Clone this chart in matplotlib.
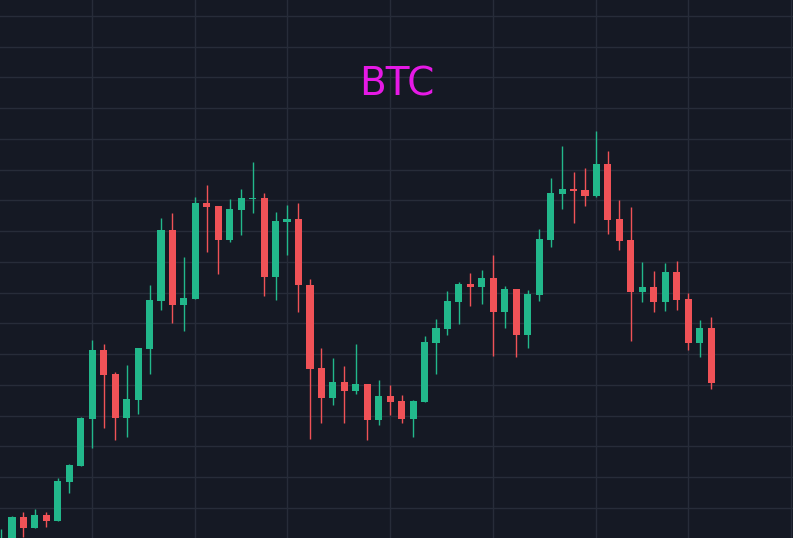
import numpy as np
import matplotlib
matplotlib.use("Agg")
import matplotlib.pyplot as plt

# BTC candles
opens = [27300, 27398, 27854, 27680, 27886, 27789, 28423, 28688, 29452, 30569,
         30179, 29463, 29756, 30585, 31371, 32520, 31301, 31403, 32964, 32915,
         32358, 32845, 33028, 33041, 31761, 32650, 32699, 31626, 30276, 29793,
         30049, 29907, 30016, 29436, 29821, 29740, 29452, 29724, 30688, 30911,
         31354, 31642, 31598, 31740, 31187, 31561, 30813, 31468, 32363, 33106,
         33187, 33171, 33073, 33593, 32699, 32358, 31512, 31593, 31350, 31837,
         31398, 30688, 30927]
closes = [27480, 27854, 27680, 27886, 27789, 28439, 28699, 29463, 30569, 30163,
          29463, 29772, 30602, 31382, 32520, 31301, 31415, 32964, 32894, 32358,
          32862, 33041, 33041, 31761, 32672, 32699, 31618, 30265, 29793, 30049,
          29907, 30016, 29436, 29821, 29728, 29452, 29740, 30699, 30927, 31366,
          31642, 31598, 31740, 31187, 31561, 30813, 31485, 32374, 33122, 33187,
          33154, 33073, 33593, 32683, 32341, 31512, 31593, 31350, 31837, 31382,
          30688, 30927, 30033]
highs = [27659, 27870, 27935, 27989, 27935, 28488, 28720, 29485, 30732, 30667,
         30216, 30325, 30602, 31626, 32715, 32802, 32081, 33062, 33252, 32915,
         33024, 33187, 33621, 33127, 32813, 32927, 32954, 31719, 30607, 30439,
         30304, 30667, 30016, 30086, 29995, 29837, 29761, 30797, 31073, 31528,
         31675, 31821, 31870, 32114, 31610, 31561, 31550, 32537, 33366, 33886,
         33463, 33528, 34130, 33805, 33008, 32894, 32000, 31854, 31984, 32016,
         31496, 31057, 31106]
lows = [27200, 27317, 27533, 27680, 27696, 27789, 28244, 28688, 28980, 29301,
        29106, 29154, 29528, 30179, 31219, 31013, 30878, 31403, 32163, 31805,
        32330, 32439, 32792, 31447, 31382, 32114, 31187, 29127, 29387, 29675,
        29387, 29854, 29111, 29350, 29517, 29387, 29159, 29724, 30174, 30813,
        30992, 31285, 31317, 30472, 30927, 30455, 30602, 31366, 32249, 32862,
        32634, 32911, 33057, 32455, 32195, 30715, 31350, 31187, 31203, 31219,
        30569, 30455, 29935]
# candle indices where the vertical grid lines fall (date ticks)
date_ticks = [8, 17, 25, 34, 43, 52, 60, 69]
price_ticks = np.arange(28000, 36001, 500)

bg = "#151924"
grid_col = "#272c39"
up_col = "#22b88b"
down_col = "#f05257"

o = np.array(opens, dtype=float)
c = np.array(closes, dtype=float)
h = np.array(highs, dtype=float)
l = np.array(lows, dtype=float)
x = np.arange(len(o))
cols = np.where(c >= o, up_col, down_col)

fig = plt.figure(figsize=(7.93, 5.38), dpi=100, facecolor=bg)
ax = fig.add_axes([0, 0, 1, 1])
ax.set_facecolor(bg)

ax.vlines(x, l, h, colors=cols, linewidth=1, zorder=2)
body_bottom = np.minimum(o, c)
body_height = np.maximum(np.abs(c - o), 18)
ax.bar(x, body_height, bottom=body_bottom, width=0.62, color=cols,
       linewidth=0, zorder=3)

ax.set_xlim(-0.047, 69.15)
ax.set_ylim(27512, 36260)
ax.set_xticks(date_ticks)
ax.set_yticks(price_ticks)
ax.grid(True, color=grid_col, linewidth=1)
ax.set_axisbelow(True)
ax.tick_params(length=0, labelbottom=False, labelleft=False)
for s in ax.spines.values():
    s.set_visible(False)

fig.text(0.5, 1 - 84 / 538, "BTC", color="#e619e6", fontsize=28,
         ha="center", va="center")

fig.savefig("out.png", dpi=100, facecolor=bg)
